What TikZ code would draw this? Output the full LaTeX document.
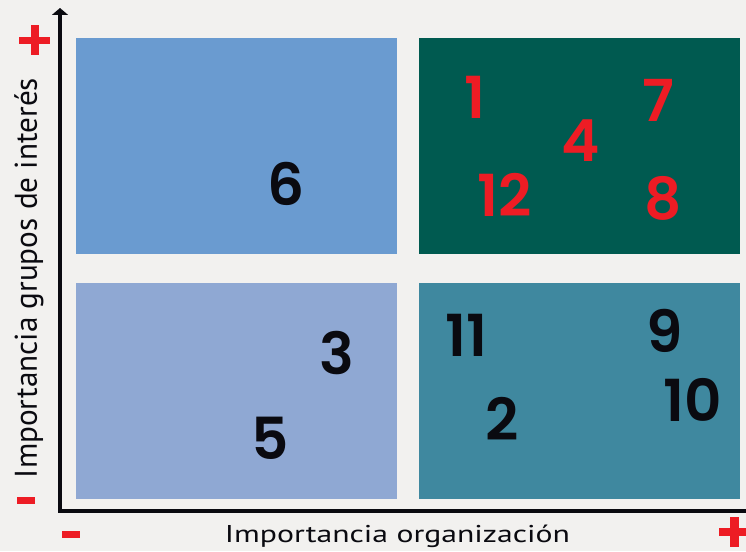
\documentclass[tikz,border=0pt]{standalone}
\usepackage{fontspec}
\usepackage{graphicx}
\usetikzlibrary{arrows.meta}
\newfontfamily\numfont{Poppins}[BoldFont={Poppins SemiBold}]
\newfontfamily\labfont{PT Sans}
\definecolor{bgc}{HTML}{F2F1EF}
\definecolor{qtl}{HTML}{6A9BD0}
\definecolor{qtr}{HTML}{005A50}
\definecolor{qbl}{HTML}{8FA8D3}
\definecolor{qbr}{HTML}{3F889F}
\definecolor{redc}{HTML}{ED1C24}
\definecolor{inkc}{HTML}{0A0A10}
\tikzset{
  quad/.style={draw=none},
  num/.style={inner sep=0pt, anchor=center, font=\numfont\bfseries\fontsize{58}{58}\selectfont},
  rednum/.style={num, text=redc},
  blacknum/.style={num, text=inkc},
  sign/.style={fill=redc, draw=none},
  axis/.style={line width=4pt, draw=inkc, line join=miter},
}
\begin{document}
\begin{tikzpicture}[x=1pt,y=-1pt]
\fill[bgc] (0,0) rectangle (746,551);
\useasboundingbox (0,0) rectangle (746,551);
% quadrants
\fill[qtl] (76,38) rectangle (397,254);
\fill[qtr] (419,38) rectangle (740,254);
\fill[qbl] (76,283) rectangle (397,499);
\fill[qbr] (419,283) rectangle (740,499);
% axes
\coordinate (xend) at (746,511);
\coordinate (orig) at (60,511);
\coordinate (ytop) at (60,8);
\draw[axis, -{Triangle[width=16pt,length=7pt]}] (xend) -- (orig) -- (ytop);
% signs
\fill[sign] (19,37) rectangle (50,44.5);
\fill[sign] (31,25.5) rectangle (39,55.5);
\fill[sign] (719,528) rectangle (750,536);
\fill[sign] (730,516.5) rectangle (739,546.5);
\fill[sign] (17,497) rectangle (35,504);
\fill[sign] (62,531) rectangle (80,538);
% labels
\node[inner sep=0pt, anchor=base, rotate=90, text=inkc] (ylab) at (37,278)
  {\resizebox{400pt}{\height}{\labfont\fontsize{31.4}{31.4}\selectfont Importancia grupos de interés}};
\node[inner sep=0pt, anchor=base, text=inkc] (xlab) at (397.5,542)
  {\resizebox{345pt}{\height}{\labfont\fontsize{24.3}{24.3}\selectfont Importancia organización}};
% numbers
\node[blacknum] (n6) at (286,184) {6};
\node[rednum] (n1) at (475,97) {1};
\node[rednum] (n7) at (658,100) {7};
\node[rednum] (n4) at (581,141) {4};
\node[rednum] (n12) at (505,195) {12};
\node[rednum] (n8) at (663,198) {8};
\node[blacknum] (n11) at (466,335) {11};
\node[blacknum] (n9) at (665,331) {9};
\node[blacknum] (n3) at (337,353) {3};
\node[blacknum] (n10) at (693,400) {10};
\node[blacknum] (n2) at (502,419) {2};
\node[blacknum] (n5) at (270,438) {5};
\end{tikzpicture}
\end{document}
